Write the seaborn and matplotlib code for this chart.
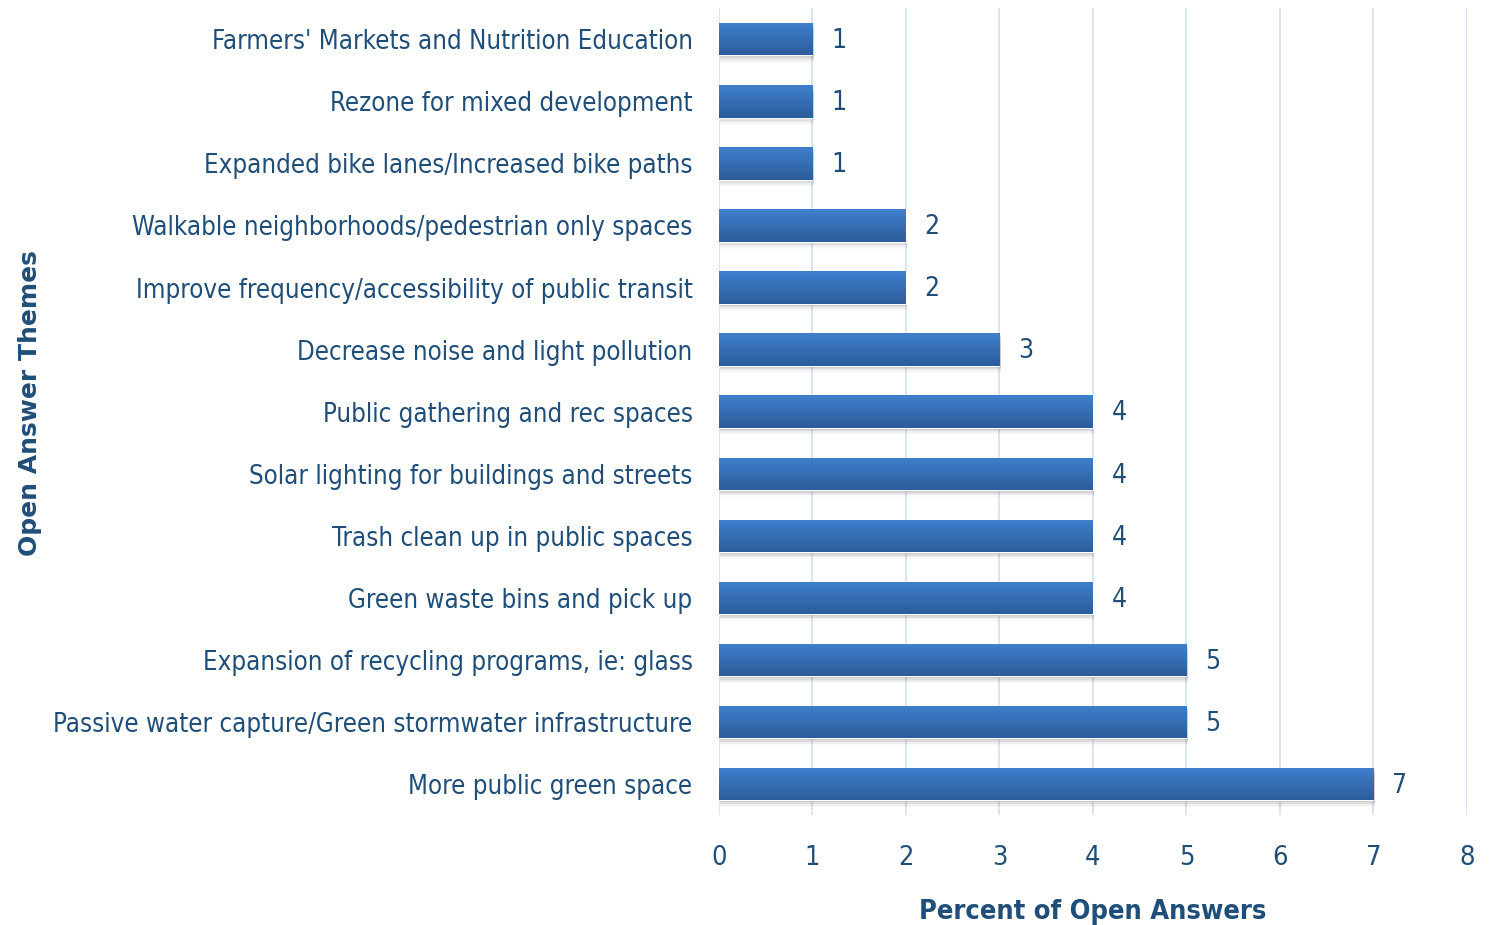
import numpy as np
import matplotlib.pyplot as plt
import seaborn as sns
from matplotlib.patches import Rectangle

themes = [
    "Farmers' Markets and Nutrition Education",
    "Rezone for mixed development",
    "Expanded bike lanes/Increased bike paths",
    "Walkable neighborhoods/pedestrian only spaces",
    "Improve frequency/accessibility of public transit",
    "Decrease noise and light pollution",
    "Public gathering and rec spaces",
    "Solar lighting for buildings and streets",
    "Trash clean up in public spaces",
    "Green waste bins and pick up",
    "Expansion of recycling programs, ie: glass",
    "Passive water capture/Green stormwater infrastructure",
    "More public green space",
]
percent = [1, 1, 1, 2, 2, 3, 4, 4, 4, 4, 5, 5, 7]

txt = "#1F4E79"
sns.set_style('white')
plt.rcParams['font.family'] = ['DejaVu Sans']
plt.rcParams['font.stretch'] = 'condensed'

fig = plt.figure(figsize=(14.96, 9.25), dpi=100)
ax = fig.add_axes([0.4806, 0.119, 0.5, 0.872])

sns.barplot(x=percent, y=themes, orient='h', color="#3A72B8", width=0.52, ax=ax, zorder=3)

# gradient fill + soft shadow
grad = np.linspace(0, 1, 256).reshape(-1, 1)
cmap = sns.blend_palette(["#3F80CE", "#2D5C9A"], as_cmap=True)
for p in list(ax.patches):
    x0, y0, w, h = p.get_x(), p.get_y(), p.get_width(), p.get_height()
    for k, a in enumerate([0.16, 0.10, 0.06, 0.03]):
        ax.add_patch(Rectangle((x0 + 0.015, y0 + 0.03 + k * 0.03), w, h, color="#444444",
                               alpha=a, lw=0, zorder=2))
    im = ax.imshow(grad, cmap=cmap, aspect='auto', extent=(x0, x0 + w, y0 + h, y0),
                   zorder=3.5)
    im.set_clip_path(p)

ax.set_xlim(0, 8)
ax.set_ylim(len(themes) - 0.5, -0.5)
ax.set_xticks(range(9))
ax.grid(axis='x', color="#D5E3F3", lw=1.3, zorder=0)
for s in ax.spines.values():
    s.set_visible(False)

for i, v in enumerate(percent):
    ax.text(v + 0.2, i + 0.03, str(v), va='center', ha='left', fontsize=19, color=txt)

ax.tick_params(axis='both', length=0, labelcolor=txt)
ax.tick_params(axis='x', pad=22, labelsize=19.5)
ax.tick_params(axis='y', pad=19, labelsize=18.5)
ax.set_xlabel("Percent of Open Answers", fontsize=19.5, fontweight='bold', color=txt, labelpad=20)
ax.set_ylabel("Open Answer Themes", fontsize=18, fontweight='bold', color=txt,
              fontstretch='normal')
ax.yaxis.set_label_coords(-0.905, 0.51)

fig.savefig("out.png", dpi=100)
